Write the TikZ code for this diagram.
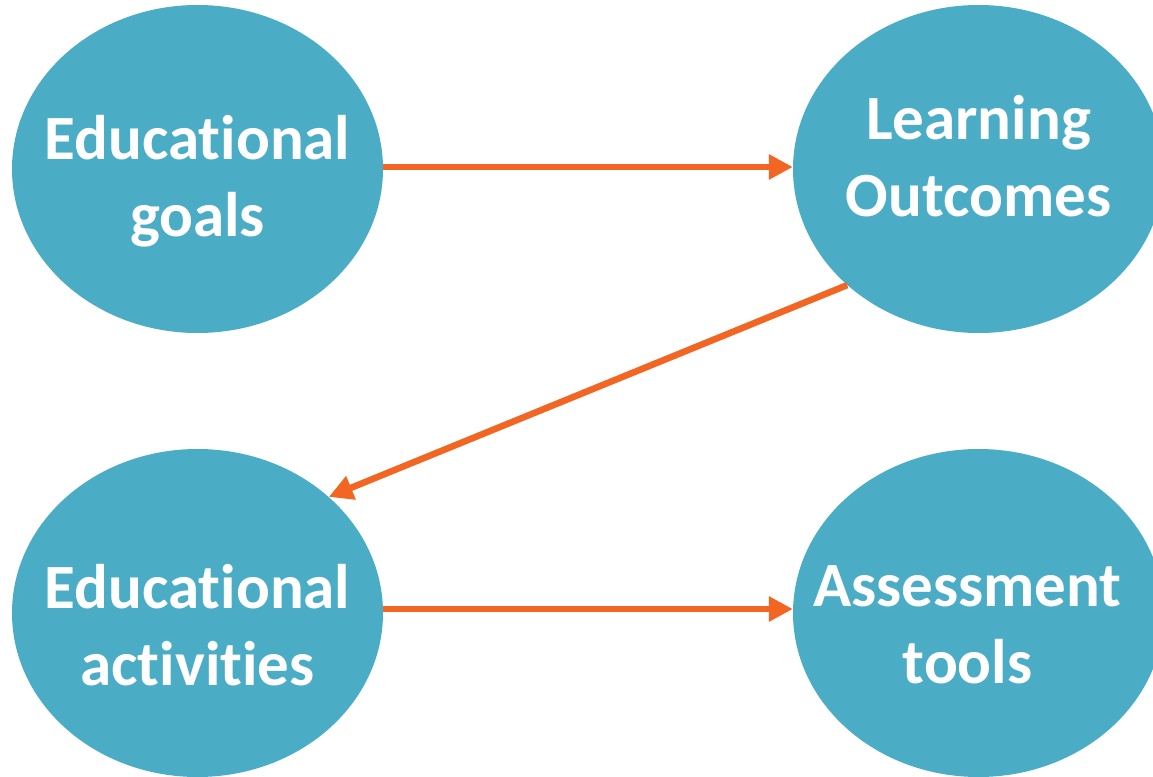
\documentclass[tikz,border=0pt]{standalone}
\usepackage{fontspec}
\setmainfont{Carlito}[Ligatures=NoCommon]
\usetikzlibrary{shapes.geometric,arrows.meta}
\definecolor{blobteal}{RGB}{75,172,198}
\definecolor{linkorange}{RGB}{242,101,34}
\begin{document}
\begin{tikzpicture}[x=1pt,y=-1pt,
        blob/.style={ellipse, fill=blobteal, minimum width=371pt, minimum height=328pt, inner sep=0pt},
        words/.style={text=white, font=\fontsize{63}{77}\selectfont\bfseries, align=center},
        link/.style={draw=linkorange, line width=6.5pt, -{Triangle[length=24pt,width=24pt]}}]
                \useasboundingbox (0,0) rectangle (1153,776);
                \clip (0,0) rectangle (1153,776);
                % the four ovals
                \node[blob] (goals) at (197.5,169) {};
                \node[blob] (outcomes) at (978.5,169) {};
                \node[blob] (activities) at (197.5,613) {};
                \node[blob] (tools) at (978.5,613) {};
                % their texts
                \node[words, yshift=-12pt] (goals-txt) at (goals) {Educational\\goals};
                \node[words, yshift=13pt] (outcomes-txt) at (outcomes) {Learning\\Outcomes};
                \node[words, yshift=-12pt] (activities-txt) at (activities) {Educational\\activities};
                \node[words, xshift=-11pt, yshift=-12pt] (tools-txt) at (tools) {Assessment\\tools};
                % arrows
                \draw[link] ([yshift=2pt]goals.east) -- ([yshift=2pt]outcomes.west);
                \draw[link] (outcomes.south west) -- (activities.north east);
                \draw[link] ([yshift=4pt]activities.east) -- ([yshift=4pt]tools.west);
            \end{tikzpicture}
\end{document}
